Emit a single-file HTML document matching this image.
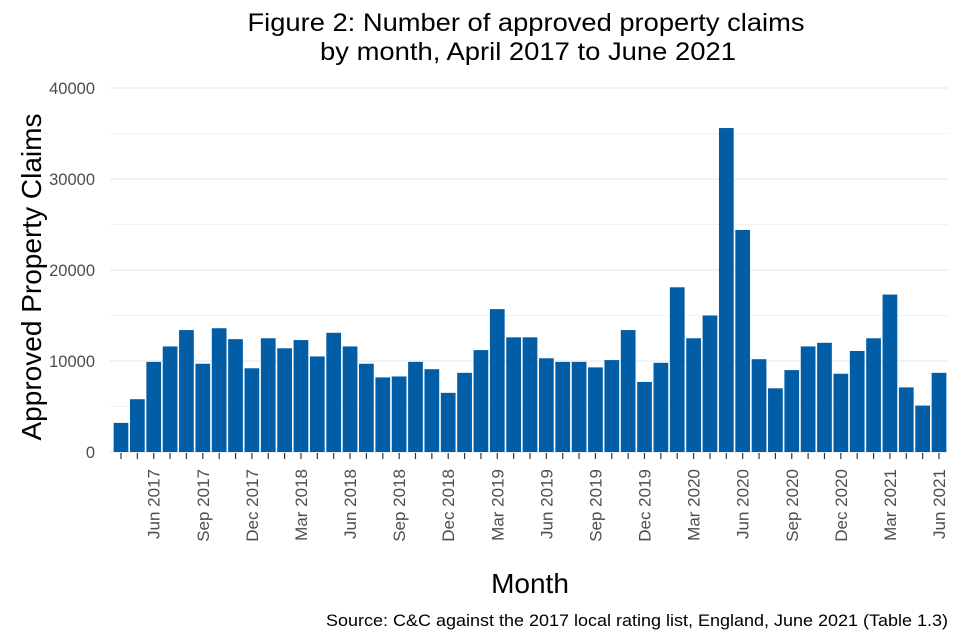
<!DOCTYPE html>
<html><head><meta charset="utf-8"><style>
body{margin:0;background:#fff}
svg{display:block;font-family:"Liberation Sans",Arial,sans-serif}
</style></head><body>
<svg id="chart" width="960" height="640">
<text x="526" y="31" text-anchor="middle" font-size="25" textLength="557" lengthAdjust="spacingAndGlyphs" fill="#000">Figure 2: Number of approved property claims</text>
<text x="528" y="60" text-anchor="middle" font-size="25" textLength="416" lengthAdjust="spacingAndGlyphs" fill="#000">by month, April 2017 to June 2021</text>
<g id="grid"></g><g id="bars"></g><g id="xaxis"></g><g id="yaxis"></g>
<text transform="translate(41,277) rotate(-90)" text-anchor="middle" font-size="28" textLength="327" lengthAdjust="spacingAndGlyphs" fill="#000">Approved Property Claims</text>
<text x="530" y="593" text-anchor="middle" font-size="28" fill="#000">Month</text>
<text x="948" y="626" text-anchor="end" font-size="17" textLength="622" lengthAdjust="spacingAndGlyphs" fill="#000">Source: C&amp;C against the 2017 local rating list, England, June 2021 (Table 1.3)</text>
</svg>
<script>
const months=["Apr","May","Jun","Jul","Aug","Sep","Oct","Nov","Dec","Jan","Feb","Mar"];
const startYear=2017;
const values=[3200,5800,9900,11600,13400,9700,13600,12400,9200,12500,11400,12300,10500,13100,11600,9700,8200,8300,9900,9100,6500,8700,11200,15700,12600,12600,10300,9900,9900,9300,10100,13400,7700,9800,18100,12500,15000,35600,24400,10200,7000,9000,11600,12000,8600,11100,12500,17300,7100,5100,8700];
const yTicks=[0,10000,20000,30000,40000];
const yMinor=[5000,15000,25000,35000];
const NS="http://www.w3.org/2000/svg";
const y0=452,yPerUnit=364/40000,x0=121,step=(939-121)/(values.length-1),bw=step*0.9;
const y=v=>y0-v*yPerUnit, x=i=>x0+i*step;
function mk(tag,attrs,parent){const e=document.createElementNS(NS,tag);for(const k in attrs)e.setAttribute(k,attrs[k]);parent.appendChild(e);return e;}
const grid=document.getElementById('grid'),bars=document.getElementById('bars'),xa=document.getElementById('xaxis'),ya=document.getElementById('yaxis');
yMinor.forEach(v=>{const l=mk('line',{x1:110,x2:948,y1:y(v),y2:y(v),stroke:'#f2f2f2','stroke-width':1},grid);

});
yTicks.forEach(v=>{const l=mk('line',{x1:110,x2:948,y1:y(v),y2:y(v),stroke:'#ebebeb','stroke-width':1.3},grid);


const t=mk('text',{x:95,y:y(v)+6,'text-anchor':'end','font-size':16.5,fill:'#4d4d4d'},ya);t.textContent=v;

});
values.forEach((v,i)=>{const r=mk('rect',{x:x(i)-bw/2,y:y(v),width:bw,height:y0-y(v),fill:'#005da6'},bars);


const tk=mk('line',{x1:x(i),x2:x(i),y1:453,y2:459,stroke:'#333','stroke-width':1.2},xa);


if(i%3===2){const m=months[i%12];const yr=startYear+Math.floor((i+3)/12);
const t=mk('text',{transform:`translate(${x(i)+6},469) rotate(-90)`,'text-anchor':'end','font-size':17,fill:'#4d4d4d'},xa);t.textContent=m+' '+yr;

}});
</script>
</body></html>
